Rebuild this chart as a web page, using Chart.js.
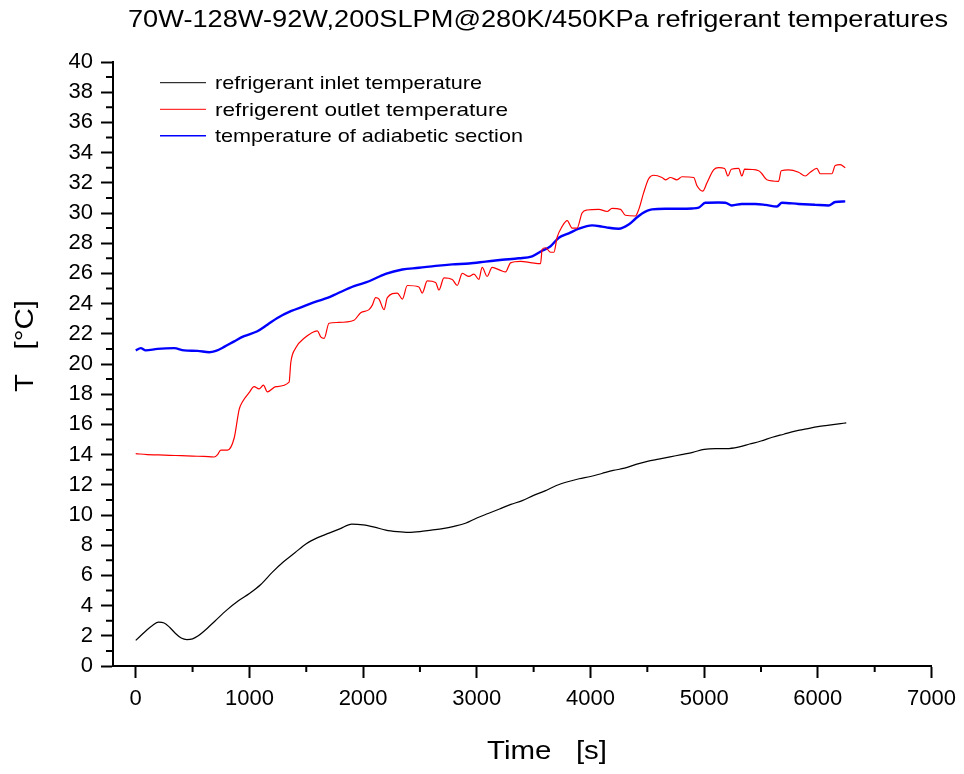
<!DOCTYPE html>
<html>
<head>
<meta charset="utf-8">
<script src="https://cdn.jsdelivr.net/npm/chart.js@4.4.1/dist/chart.umd.min.js"></script>
<style>
  html, body { margin: 0; padding: 0; background: #fff; }
  #wrap { width: 964px; height: 774px; }
</style>
</head>
<body>
<div id="wrap"><canvas id="grafico"></canvas></div>
<script>
// refrigerant inlet temperature
var inletTime = [0, 50, 100, 150, 200, 250, 300, 350, 400, 450, 500, 550, 600, 700, 800, 900, 1000, 1100, 1200, 1300, 1400, 1500, 1600, 1700, 1800, 1900, 2000, 2100, 2200, 2300, 2400, 2500, 2600, 2700, 2800, 2900, 3000, 3100, 3200, 3300, 3400, 3500, 3600, 3700, 3800, 3900, 4000, 4100, 4200, 4300, 4400, 4500, 4600, 4700, 4800, 4900, 5000, 5100, 5200, 5300, 5400, 5500, 5600, 5700, 5800, 5900, 6000, 6100, 6200, 6250];
var inletTemp = [1.7, 2.05, 2.4, 2.7, 2.9, 2.85, 2.55, 2.15, 1.85, 1.75, 1.8, 2.0, 2.3, 3.0, 3.7, 4.3, 4.8, 5.4, 6.2, 6.9, 7.5, 8.1, 8.5, 8.8, 9.1, 9.4, 9.35, 9.2, 9.0, 8.9, 8.85, 8.9, 9.0, 9.1, 9.25, 9.45, 9.8, 10.1, 10.4, 10.7, 10.95, 11.3, 11.6, 11.95, 12.2, 12.4, 12.55, 12.75, 12.95, 13.1, 13.35, 13.55, 13.7, 13.85, 14.0, 14.15, 14.35, 14.4, 14.4, 14.5, 14.7, 14.9, 15.15, 15.35, 15.55, 15.7, 15.85, 15.95, 16.05, 16.1];

// refrigerent outlet temperature
var outletTime = [0, 100, 200, 300, 400, 500, 600, 690, 720, 748, 807, 866, 910, 939, 997, 1041, 1085, 1123, 1158, 1232, 1349, 1364, 1408, 1481, 1598, 1627, 1657, 1700, 1773, 1920, 1979, 2052, 2081, 2110, 2140, 2184, 2213, 2301, 2345, 2389, 2491, 2520, 2564, 2638, 2667, 2711, 2784, 2828, 2872, 2931, 2975, 3018, 3047, 3091, 3135, 3209, 3253, 3297, 3385, 3487, 3561, 3575, 3605, 3649, 3678, 3707, 3750, 3795, 3838, 3882, 3926, 3970, 4073, 4146, 4190, 4264, 4307, 4395, 4425, 4468, 4512, 4556, 4629, 4659, 4703, 4761, 4805, 4908, 4937, 4987, 5025, 5083, 5127, 5180, 5209, 5239, 5303, 5332, 5356, 5479, 5508, 5552, 5655, 5678, 5742, 5830, 5889, 5933, 5991, 6021, 6123, 6153, 6197, 6241];
var outletTemp = [14.06, 14.0, 13.98, 13.95, 13.93, 13.9, 13.88, 13.84, 14.0, 14.3, 14.3, 15.1, 17.0, 17.5, 18.1, 18.5, 18.35, 18.6, 18.15, 18.5, 18.8, 20.1, 21.07, 21.7, 22.2, 21.8, 21.7, 22.7, 22.75, 22.9, 23.4, 23.6, 23.9, 24.4, 24.3, 23.6, 24.4, 24.7, 24.3, 25.2, 25.1, 24.7, 25.5, 25.4, 24.9, 25.7, 25.6, 25.2, 26.0, 25.8, 25.95, 25.6, 26.4, 25.8, 26.4, 26.2, 26.1, 26.7, 26.8, 26.7, 26.65, 27.6, 27.7, 27.4, 27.4, 28.4, 29.1, 29.5, 29.0, 29.0, 30.0, 30.2, 30.24, 30.1, 30.3, 30.24, 29.85, 29.8, 30.24, 31.35, 32.27, 32.5, 32.35, 32.2, 32.35, 32.2, 32.4, 32.35, 31.8, 31.45, 32.0, 32.85, 33.0, 32.95, 32.45, 32.9, 32.95, 32.45, 32.9, 32.8, 32.6, 32.2, 32.1, 32.8, 32.85, 32.7, 32.45, 32.7, 32.95, 32.6, 32.6, 33.15, 33.2, 33.0];

// temperature of adiabetic section
var adiabTime = [0, 44, 88, 191, 338, 426, 543, 646, 705, 778, 866, 953, 1070, 1158, 1246, 1364, 1481, 1598, 1686, 1773, 1920, 2052, 2198, 2345, 2491, 2638, 2784, 2931, 3077, 3223, 3370, 3487, 3575, 3649, 3722, 3809, 3897, 4014, 4102, 4161, 4249, 4336, 4395, 4454, 4541, 4659, 4805, 4893, 4952, 5010, 5127, 5186, 5244, 5332, 5450, 5538, 5640, 5684, 5830, 5977, 6094, 6153, 6241];
var adiabTemp = [20.9, 21.05, 20.9, 21.0, 21.05, 20.9, 20.87, 20.78, 20.87, 21.13, 21.5, 21.84, 22.17, 22.6, 23.05, 23.5, 23.83, 24.16, 24.38, 24.67, 25.15, 25.48, 25.97, 26.26, 26.37, 26.5, 26.6, 26.66, 26.78, 26.9, 27.0, 27.13, 27.5, 27.8, 28.36, 28.65, 28.96, 29.18, 29.1, 29.02, 28.96, 29.24, 29.62, 29.97, 30.24, 30.28, 30.28, 30.3, 30.35, 30.68, 30.7, 30.68, 30.5, 30.6, 30.6, 30.54, 30.43, 30.68, 30.6, 30.54, 30.5, 30.73, 30.77];

// tick labels
var xTicks = [0, 1000, 2000, 3000, 4000, 5000, 6000, 7000];
var yTicks = [0, 2, 4, 6, 8, 10, 12, 14, 16, 18, 20, 22, 24, 26, 28, 30, 32, 34, 36, 38, 40];

var tituloGrafico = '70W-128W-92W,200SLPM@280K/450KPa refrigerant temperatures';
var tituloX = 'Time   [s]';
var tituloY = 'T   [\u00B0C]';

function puntos(xs, ys) {
    return xs.map(function (x, i) { return { x: x, y: ys[i] }; });
}

var FUENTE = '"Liberation Sans", Arial, sans-serif';

// text stretched horizontally to a given width (the original is wider than its height)
function textoAncho(c, txt, x, y, ancho) {
    var w = c.measureText(txt).width;
    c.save();
    c.translate(x, y);
    c.scale(ancho / w, 1);
    c.fillText(txt, 0, 0);
    c.restore();
}

// minor ticks, titles and legend
var extras = {
    id: 'extras',
    afterDraw: function (chart) {
        var c = chart.ctx;
        var sx = chart.scales.x, sy = chart.scales.y;
        var area = chart.chartArea;
        c.save();
        c.strokeStyle = '#000';
        c.lineWidth = 2;
        c.beginPath();
        for (var i = 0; i < xTicks.length - 1; i++) {
            var px = sx.getPixelForValue((xTicks[i] + xTicks[i + 1]) / 2);
            c.moveTo(px, area.bottom);
            c.lineTo(px, area.bottom + 6);
        }
        for (var j = 0; j < yTicks.length - 1; j++) {
            var py = sy.getPixelForValue((yTicks[j] + yTicks[j + 1]) / 2);
            c.moveTo(area.left, py);
            c.lineTo(area.left - 7, py);
        }
        c.stroke();

        c.fillStyle = '#000';
        c.textAlign = 'left';
        c.textBaseline = 'alphabetic';
        c.font = '24px ' + FUENTE;
        textoAncho(c, tituloGrafico, 128, 27, 820);
        c.font = '26px ' + FUENTE;
        textoAncho(c, tituloX, 487, 759, 120);
        c.save();
        c.translate(33, 392);
        c.rotate(-Math.PI / 2);
        textoAncho(c, tituloY, 0, 0, 92);
        c.restore();

        // leyenda
        var filas = [82.7, 109.3, 135.7];
        c.font = '19px ' + FUENTE;
        c.textBaseline = 'middle';
        var anchos = [267, 293, 308];
        chart.data.datasets.forEach(function (ds, k) {
            c.strokeStyle = ds.borderColor;
            c.lineWidth = k === 2 ? 1.5 : 1;
            c.beginPath();
            c.moveTo(160, filas[k]);
            c.lineTo(206, filas[k]);
            c.stroke();
            textoAncho(c, ds.label, 215, filas[k] + 1, anchos[k]);
        });
        c.restore();
    }
};

var ctx = document.getElementById('grafico').getContext('2d');
var myChart = new Chart(ctx, {
    type: 'line',
    data: {
        datasets: [{
            label: 'refrigerant inlet temperature',
            data: puntos(inletTime, inletTemp),
            borderColor: '#000000',
            borderWidth: 1.2,
            pointRadius: 0,
            cubicInterpolationMode: 'monotone'
        }, {
            label: 'refrigerent outlet temperature',
            data: puntos(outletTime, outletTemp),
            borderColor: '#ff0000',
            borderWidth: 1.2,
            pointRadius: 0,
            cubicInterpolationMode: 'monotone'
        }, {
            label: 'temperature of adiabetic section',
            data: puntos(adiabTime, adiabTemp),
            borderColor: '#0000ff',
            borderWidth: 2.4,
            pointRadius: 0,
            cubicInterpolationMode: 'monotone'
        }]
    },
    options: {
        responsive: true,
        maintainAspectRatio: false,
        animation: false,
        events: [],
        layout: { padding: { top: 62, right: 31, left: 0, bottom: 0 } },
        plugins: {
            legend: { display: false },
            title: { display: false },
            tooltip: { enabled: false }
        },
        scales: {
            x: {
                type: 'linear',
                min: -200,
                max: 7000,
                afterFit: function (s) { s.height = 108; },
                afterBuildTicks: function (s) {
                    s.ticks = xTicks.map(function (v) { return { value: v }; });
                },
                ticks: {
                    padding: 8,
                    color: '#000',
                    maxRotation: 0,
                    autoSkip: false,
                    font: { family: FUENTE, size: 22 },
                    callback: function (v) { return String(v); }
                },
                grid: {
                    drawOnChartArea: false,
                    drawTicks: true,
                    tickLength: 12,
                    tickWidth: 2,
                    tickColor: '#000'
                },
                border: { display: true, color: '#000', width: 2 }
            },
            y: {
                min: 0,
                max: 40,
                afterFit: function (s) { s.width = 113; },
                afterBuildTicks: function (s) {
                    s.ticks = yTicks.map(function (v) { return { value: v }; });
                },
                ticks: {
                    padding: 8,
                    color: '#000',
                    autoSkip: false,
                    font: { family: FUENTE, size: 22 },
                    callback: function (v) { return String(v); }
                },
                grid: {
                    drawOnChartArea: false,
                    drawTicks: true,
                    tickLength: 12,
                    tickWidth: 2,
                    tickColor: '#000'
                },
                border: { display: true, color: '#000', width: 2 }
            }
        }
    },
    plugins: [extras]
});
</script>
</body>
</html>
